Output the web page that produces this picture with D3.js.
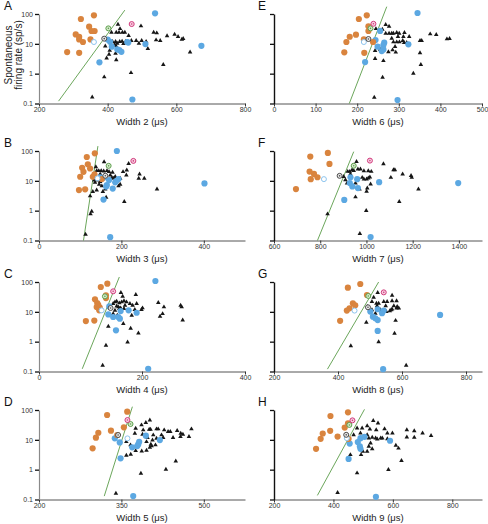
<!DOCTYPE html>
<html><head><meta charset="utf-8">
<script src="https://cdn.jsdelivr.net/npm/d3@7"></script>
<style>
body{margin:0;background:#fff}
svg{display:block;font-family:Arial,"Liberation Sans",Helvetica,sans-serif}
</style>
</head><body>
<svg id="chart" width="488" height="524"></svg>
<script>
// ---------------- DATA ----------------
const panelIds = ["A","B","C","D","E","F","G","H"];
const xLabels = ["Width 2 (μs)","Width 3 (μs)","Width 4 (μs)","Width 5 (μs)","Width 6 (μs)","Width 7 (μs)","Width 8 (μs)","Width 9 (μs)"];
const xDomains = [[200,800],[0,500],[0,400],[200,575],[0,500],[600,1500],[200,850],[200,900]];
const xTickValues = [[200,400,600,800],[0,200,400],[0,200,400],[200,350,500],[0,100,200,300,400,500],[600,800,1000,1200,1400],[200,400,600,800],[200,400,600,800]];
const yTickValues = [0.1,1,10,100];
const yLabel = ["Spontaneous","firing rate (sp/s)"];

// orange (filled) cells: [width, rate]
const orangeA = [[322,68],[360,90],[346,37.5],[353,26.9],[362,26.9],[307,20.7],[317,17.3],[317,14.1],[328,11.5],[350,14.1],[282,5.3],[317,5.0]];
const orangeB = [[116,63],[135.5,83.6],[118.5,36],[104.7,27.2],[108,20.1],[124,25.9],[100,13.7],[130.6,13.7],[134.7,16.4],[152.5,11.5],[97,4.9],[112,5.2]];
const orangeC = [[132.7,88],[120,68],[130,35.7],[108.7,26.2],[130,29],[113,19.7],[115,17.3],[112,14.5],[118,13.8],[117,11.2],[91,4.9],[107.4,5.1]];
const orangeD = [[360.6,88],[324,68],[354.5,26.2],[331,20.2],[308,17.3],[303.6,11.8],[297.6,5.2],[342.4,14.5]];
const orangeE = [[204,68],[223,90],[227,38.5],[227,26.9],[197,20.2],[182,17.3],[174,11.5],[216,14.1],[238,11.5],[169,5.2],[217,5.0]];
const orangeF = [[833,86],[757,65],[840,37],[754,20.5],[773,17],[788,13.2],[759,11.4],[695,5.3]];
const orangeG = [[469.6,85.8],[430.8,64.6],[490.5,36.7],[446.5,19.3],[453.8,16.6],[436,13.2],[427.6,11],[406.6,5.0]];
const orangeH = [[449,83.6],[390,63],[449,36],[438,25.8],[389,20],[364,16.3],[414,12.9],[357,10.8],[451,10.8],[341.5,5.0]];

// blue (filled) cells
const blueA = [[538,105],[400,13.9],[407,11.7],[412,8.0],[428,6.5],[434,6.2],[440,5.4],[457,11.5],[460,11],[376,2.4],[510,9.8],[673,8.6],[472,0.136]];
const blueB = [[189,100],[401.6,8.2],[172.8,0.129],[156.6,2.36],[179,5.5],[164.7,7.2],[163,6.4],[170,10.6],[185,8.9],[193,11.5],[187.4,9.8],[148.5,13],[156.6,12.7]];
const blueC = [[226,108],[212,0.123],[149.5,2.4],[136.5,15.2],[134.6,8.2],[144,6.7],[154,6.7],[157,5.9],[158.5,10.6],[174,11.2],[189.6,9.3]];
const blueD = [[371.5,0.13],[348.5,2.4],[347,8.2],[338,11.2],[369.7,5.6],[380.6,7.0],[382.4,8.6],[378.8,6.2],[394.5,13.8],[420,9.8]];
const blueE = [[345,108],[255,27],[244,13.4],[265,10.9],[263,9.1],[249,8.0],[263,6.5],[259,5.7],[323,9.6],[219,2.45],[297,0.13]];
const blueF = [[1397,8.4],[1018,0.13],[904,2.3],[931,13.2],[960,11.4],[928,8.4],[939,6.5],[963,5.7],[1055,9.0]];
const blueG = [[719,7.9],[541,0.12],[524,2.3],[501,10.2],[509,6.9],[516.7,6.1],[524,5.3],[537.6,9.0],[543,11],[524,12.2]];
const blueH = [[543,0.123],[451,2.3],[454.7,7.5],[482,8.4],[491,11.4],[504.5,12.6],[489,6.0],[491,5.0],[590.5,9.3]];

// black triangles
const triA = [[430,45],[436,32],[497,39.5],[411,24.3],[425,24.3],[433,24.3],[443,24.3],[450,24.3],[461,18.7],[534,24.3],[543,23],[541,13.4],[553,12.7],[573,18.3],[595,20.8],[605,17.3],[616,14.1],[620,14.9],[512,11.8],[517,6.9],[499,12.7],[469,12.7],[483,12.7],[491,10.4],[393,8.4],[406,6.0],[414,11.8],[423,11.8],[428,10.4],[435,11.8],[442,12.1],[446,10.1],[453,12.1],[420,9.6],[424,8.6],[397,3.3],[423,4.8],[425,2.9],[404,4.4],[640,5.3],[562,2.0],[468,1.07],[390,0.77],[355,0.164]];
const triB = [[158,43],[138,29.5],[140,21.7],[145,21.7],[151,21.7],[157,21.2],[165,21.7],[170,20.1],[178.5,19.1],[148.5,16.8],[217.5,37.9],[213,22.8],[204,20.1],[212,15.6],[197,12.1],[193,6.7],[244,16.8],[242,12.1],[255.6,12.1],[286.4,5.3],[207,2.0],[136,8.9],[130.6,4.35],[140,4.9],[146,7.6],[134,10.6],[148.5,9.3],[155,4.35],[173,15.6],[185,13.7],[177,12.7],[190.7,10.6],[163,2.8],[124,3.1],[128,0.94],[125,0.77],[113,0.16],[144.4,10.6],[152.5,6.7],[160.7,5.3],[197,7.6],[181,12.1]];
const triC = [[159,43.8],[162.4,33],[188,37.6],[147.5,21.3],[150.8,22.4],[156,19.7],[160.5,21.3],[165,23.1],[170,21.3],[176.6,18.8],[181.8,16.5],[189.6,18.8],[150.8,15.6],[154,14.5],[158.5,13.4],[165,12.7],[147.5,11.2],[231.6,20.2],[242.6,14.5],[235,7.0],[240,8.6],[277,14.5],[275,16.5],[279,5.3],[201,13.4],[199,11.8],[186,11.8],[180,7.6],[163.7,4.0],[134.6,3.25],[178,2.8],[193,1.94],[172,0.97],[130,0.75],[123.6,0.16],[144,8.6],[152,7.6],[156,12.7],[167,16.5],[144,18.8]];
const triD = [[401.8,46],[394.5,37.6],[386.6,31.3],[376,24.3],[389.7,21.3],[400.6,22.4],[403,22.4],[414,23],[417,23],[427.9,21.3],[435,18.7],[439,18.7],[451.5,20.2],[458,16.5],[462,15.2],[477.5,23],[426,11.8],[444,11.8],[457.5,12.7],[473,12.7],[388.5,15.2],[397.5,11.8],[408,14.5],[414,11.2],[406.6,9.8],[395.7,8.6],[403.6,7.0],[412,6.7],[405,6.2],[401.8,5.6],[395.7,4.4],[387,4.2],[376,4.3],[367,3.25],[359,3.0],[366.6,6.7],[359,8.6],[449,1.94],[431,1.02],[385.5,0.75],[340,0.16],[374.5,16.5],[423,14.5]];
const triE = [[268.5,43.8],[276.6,38.5],[245,32],[260.5,30.5],[268.5,22.4],[276.6,22.4],[283,22.4],[287,22.4],[295,23.6],[301,22.4],[313.6,23.6],[311,17.3],[325,17.3],[298,17.3],[283,15.2],[287,11.5],[295,11.5],[301.5,11.5],[309.5,12.7],[312.8,10.9],[319,10.9],[351,12.7],[355,12.7],[375.5,21.3],[390,20.2],[415.7,14.5],[422,14.9],[291,8.0],[285,6.2],[292.7,5.2],[275,5.4],[255,6.5],[243,5.9],[263,2.7],[243,3.2],[351,5.0],[353,2.0],[335,1.02],[261,0.75],[241,0.16]];
const triF = [[957,44],[1073.5,37],[942,32.5],[919,20.5],[928,20.5],[938,23.2],[945,22],[963,24.5],[974,24.5],[989,21.5],[1008,21.5],[1021,20.5],[1117,23.2],[1123,23.2],[1156.6,16.7],[1105.6,12.9],[1193,15],[1196,12.9],[1225,5.3],[1142,2.0],[999,1.0],[952.6,2.86],[831.7,0.77],[971.5,0.17],[981.7,12.9],[989,11.4],[1000.7,11.4],[1008,12.3],[1015,13.2],[909,10.8],[916,8.4],[952.6,8.4],[970,5.3],[1003.6,5.7],[1000.7,4.4],[1018,7.7],[901.6,13.7],[930.7,16.7]];
const triG = [[524,44],[569,35.8],[511.5,30.6],[543,22],[553.5,22],[569,23.2],[583,23.2],[506,22],[520,19.3],[527,19.3],[549,15.7],[574.5,15.7],[585,15],[522,15.7],[566,11.6],[569,12.2],[583,13.2],[590,13.2],[551,10.2],[562,10.7],[488.5,4.4],[525,5.4],[580,5.1],[576.6,1.9],[527,0.98],[440,0.72],[613,0.16],[492.6,15],[506,11.6],[532.5,11.6],[516.8,8.9]];
const triH = [[534,44],[550,36],[479.6,24.5],[496.6,24.5],[513.6,29.2],[522.6,22.7],[544,21.5],[572,23.2],[581.5,16.7],[598.5,16.7],[647,21.5],[672,20],[700,16.7],[728.6,13.9],[672,12],[647,12.3],[513.6,14.7],[519,11.4],[530.5,12],[542,11.4],[547.5,10.5],[559,11.4],[564.5,11.4],[581.5,10.8],[525,7.7],[519,6.0],[530.5,5.0],[513.6,4.1],[499,4.1],[610,6.5],[619,5.2],[493,3.16],[457,3.16],[629,2.0],[585,1.0],[479.6,0.77],[414,0.17],[468,14.7],[491,16.7]];

// highlighted single cells: [light blue open, grey open, green open, pink open]
const markedA = [[360,11.5],[390,14.9],[402,33],[470,46]];
const markedB = [[142,12.1],[161,14.8],[169,31.8],[229,46.6]];
const markedC = [[121.6,11.2],[139,13.4],[128,33],[144,48.7]];
const markedD = [[361,11.2],[344,14.5],[366.6,33.9],[361,46]];
const markedE = [[216,11.5],[227,14.5],[232,33],[239,47]];
const markedF = [[816,11.4],[884,14.7],[945,32],[1015,47.6]];
const markedG = [[451.7,11],[493.7,14.2],[494.7,34],[543,45]];
const markedH = [[445,11.4],[443,14.7],[453.6,31.6],[464,45]];

// separating line endpoints
const lineA = [[257,0.12],[450,135]];
const lineB = [[108,0.1],[143,146]];
const lineC = [[84,0.123],[156,147]];
const lineD = [[318.8,0.13],[370,129]];
const lineE = [[181,0.1],[271,176]];
const lineF = [[788,0.1],[945,95]];
const lineG = [[367,0.12],[527,100]];
const lineH = [[346,0.137],[504.5,105]];

const orange = [orangeA,orangeB,orangeC,orangeD,orangeE,orangeF,orangeG,orangeH];
const blue = [blueA,blueB,blueC,blueD,blueE,blueF,blueG,blueH];
const tri = [triA,triB,triC,triD,triE,triF,triG,triH];
const marked = [markedA,markedB,markedC,markedD,markedE,markedF,markedG,markedH];
const lines = [lineA,lineB,lineC,lineD,lineE,lineF,lineG,lineH];

// ---------------- LAYOUT ----------------
const colX = [[39,245],[274,482]];
const rowTop = [14,151,282,410];
const plotH = 89.5;
const C = {orange:"#d9843e", blue:"#5ca8e2", tri:"#161616", line:"#5a9c48"};

const svg = d3.select("#chart");

panelIds.forEach((id,i)=>{
  const col = i<4?0:1, row = i%4;
  const [x0,x1] = colX[col];
  const yTop = rowTop[row], yBot = yTop+plotH;
  const x = d3.scaleLinear().domain(xDomains[i]).range([x0,x1]);
  const y = d3.scaleLog().domain([0.1,100]).range([yBot,yTop]);
  const g = svg.append("g");

  // x axis
  const xa = g.append("g").attr("transform",`translate(0,${yBot})`)
    .call(d3.axisBottom(x).tickValues(xTickValues[i]).tickSize(3).tickSizeOuter(0).tickPadding(1).tickFormat(d3.format("d")));
  xa.select(".domain").attr("stroke","#555").attr("stroke-width",1);
  xa.selectAll(".tick line").attr("stroke","#333");
  xa.selectAll("text").attr("font-size","7px").attr("fill","#333").attr("font-family","Arial,'Liberation Sans',sans-serif");

  // y axis
  const ya = g.append("g").attr("transform",`translate(${x0},0)`)
    .call(d3.axisLeft(y).tickValues(yTickValues).tickSize(4).tickSizeOuter(0).tickPadding(2)
      .tickFormat(col===0?d3.format("~g"):()=>""));
  ya.select(".domain").attr("stroke",col===0?"#8a8a8a":"#111").attr("stroke-width",col===0?1.2:1.4);
  ya.selectAll(".tick line").attr("stroke","#111").attr("stroke-width",1.3);
  ya.selectAll("text").attr("font-size","7px").attr("fill","#333").attr("font-family","Arial,'Liberation Sans',sans-serif");

  // separating line
  g.append("line")
    .attr("x1",x(lines[i][0][0])).attr("y1",y(lines[i][0][1]))
    .attr("x2",x(lines[i][1][0])).attr("y2",y(lines[i][1][1]))
    .attr("stroke",C.line).attr("stroke-width",0.9);

  // triangles
  const triSym = d3.symbol().type(d3.symbolTriangle).size(9);
  g.selectAll(".tri").data(tri[i]).join("path")
    .attr("d",triSym)
    .attr("transform",d=>`translate(${x(d[0])},${y(d[1])})`)
    .attr("fill",C.tri);

  // blue
  g.selectAll(".bl").data(blue[i]).join("circle")
    .attr("cx",d=>x(d[0])).attr("cy",d=>y(d[1])).attr("r",3.1).attr("fill",C.blue);

  // orange
  g.selectAll(".or").data(orange[i]).join("circle")
    .attr("cx",d=>x(d[0])).attr("cy",d=>y(d[1])).attr("r",3.1).attr("fill",C.orange);

  // marked cells
  const m = marked[i];
  const styles = [
    {fill:"#ffffff",stroke:"#8cc4ee"},
    {fill:"#e8e8e8",stroke:"#4a4a4a"},
    {fill:"#d7ebcd",stroke:"#5e9f4e"},
    {fill:"#f7d3e3",stroke:"#d23a7c"}
  ];
  m.forEach((p,k)=>{
    g.append("circle").attr("cx",x(p[0])).attr("cy",y(p[1])).attr("r",2.5)
      .attr("fill",styles[k].fill).attr("stroke",styles[k].stroke).attr("stroke-width",1);
    if(k>=1) g.append("circle").attr("cx",x(p[0])).attr("cy",y(p[1])).attr("r",0.8).attr("fill",styles[k].stroke);
  });

  // x label
  g.append("text").attr("x",(x0+x1)/2).attr("y",yBot+21).attr("text-anchor","middle")
    .attr("font-size","9.5px").attr("fill","#222").text(xLabels[i]);

  // panel letter
  g.append("text").attr("x",col===0?4:258).attr("y",yTop-4)
    .attr("font-size","12px").attr("fill","#111").text(id);
});

// y title
const yt = svg.append("text").attr("transform","translate(0,55) rotate(-90)")
  .attr("text-anchor","middle").attr("font-size","10px").attr("fill","#222");
yt.append("tspan").attr("x",0).attr("y",12).text(yLabel[0]);
yt.append("tspan").attr("x",0).attr("y",22).text(yLabel[1]);
</script>
</body></html>
